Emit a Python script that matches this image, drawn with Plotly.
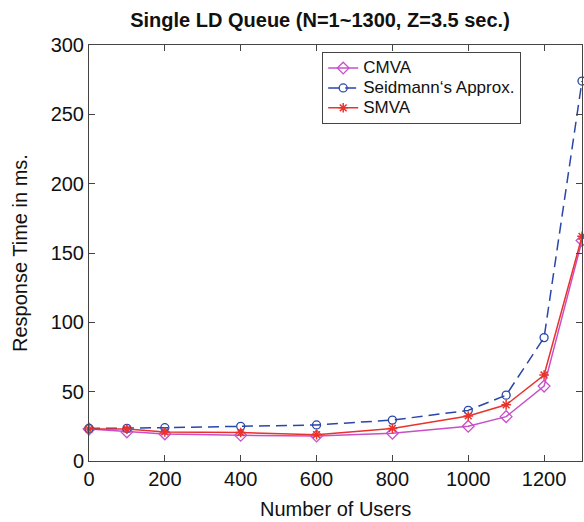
import plotly.graph_objects as go

users = [0, 100, 200, 400, 600, 800, 1000, 1100, 1200, 1300]
cmva = [23, 21, 19.5, 18.5, 18, 20, 25, 32, 54, 159]
seidmann = [23.5, 23.5, 24, 25, 26, 29.5, 36.5, 47.5, 89, 274]
smva = [23, 23, 21, 20.5, 19, 23.5, 32.5, 40.5, 62, 162]
names = ["CMVA", "Seidmann\u2018s Approx.", "SMVA"]

FONT = "Liberation Sans, Arial, Helvetica"

def lg(s):
    return '<span style="font-size:17px">' + s + '</span>'

fig = go.Figure()
fig.add_trace(go.Scatter(x=users, y=cmva, name=lg(names[0]), mode="lines+markers",
                         line=dict(color="#c84fc8", width=1.5),
                         marker=dict(symbol="diamond-open", size=9, color="#c84fc8", line=dict(width=1.3)),
                         cliponaxis=False))
fig.add_trace(go.Scatter(x=users, y=seidmann, name=lg(names[1]), mode="lines+markers",
                         line=dict(color="#2a46a8", width=1.5, dash="11px,6px"),
                         marker=dict(symbol="circle-open", size=8, color="#2a46a8", line=dict(width=1.3)),
                         cliponaxis=False))
fig.add_trace(go.Scatter(x=users, y=smva, name=lg(names[2]), mode="lines+markers",
                         line=dict(color="#e8322c", width=1.5),
                         marker=dict(symbol="asterisk-open", size=8, color="#e8322c", line=dict(width=1.5, color="#e8322c")),
                         cliponaxis=False))

axis_common = dict(showgrid=False, zeroline=False, showline=True, linecolor="#444444", linewidth=1,
                   mirror="ticks", ticks="inside", ticklen=6, tickcolor="#444444", automargin=False,
                   tickfont=dict(family=FONT, size=20, color="#111111"))
fig.update_xaxes(range=[0, 1300], tickvals=[0, 200, 400, 600, 800, 1000, 1200], **axis_common)
fig.update_yaxes(range=[0, 300], tickvals=[0, 50, 100, 150, 200, 250, 300], **axis_common)

fig.add_annotation(text="Number of Users", xref="paper", yref="paper", x=0.5, y=-0.115,
                   xanchor="center", yanchor="middle", showarrow=False,
                   font=dict(family=FONT, size=20, color="#111111"))
fig.add_annotation(text="Response Time in ms.", xref="paper", yref="paper", x=-0.14, y=0.5,
                   xanchor="center", yanchor="middle", showarrow=False, textangle=-90,
                   font=dict(family=FONT, size=20, color="#111111"))

fig.update_layout(
    width=584, height=522,
    margin=dict(l=89, r=2, t=45, b=61),
    plot_bgcolor="white", paper_bgcolor="white",
    title=dict(text="<b>Single LD Queue (N=1~1300, Z=3.5 sec.)</b>", x=0.548, xanchor="center", y=0.962, yanchor="middle",
               font=dict(family=FONT, size=20, color="#111111")),
    legend=dict(x=0.473, y=0.983, xanchor="left", yanchor="top", bordercolor="#444444", borderwidth=1,
                bgcolor="white", font=dict(family=FONT, size=13, color="#111111"),
                tracegroupgap=0, itemwidth=30),
    showlegend=True,
)

fig.write_html("out.html", config={"displayModeBar": False},
               post_script="document.body.style.margin='0';document.body.style.overflow='hidden';")
